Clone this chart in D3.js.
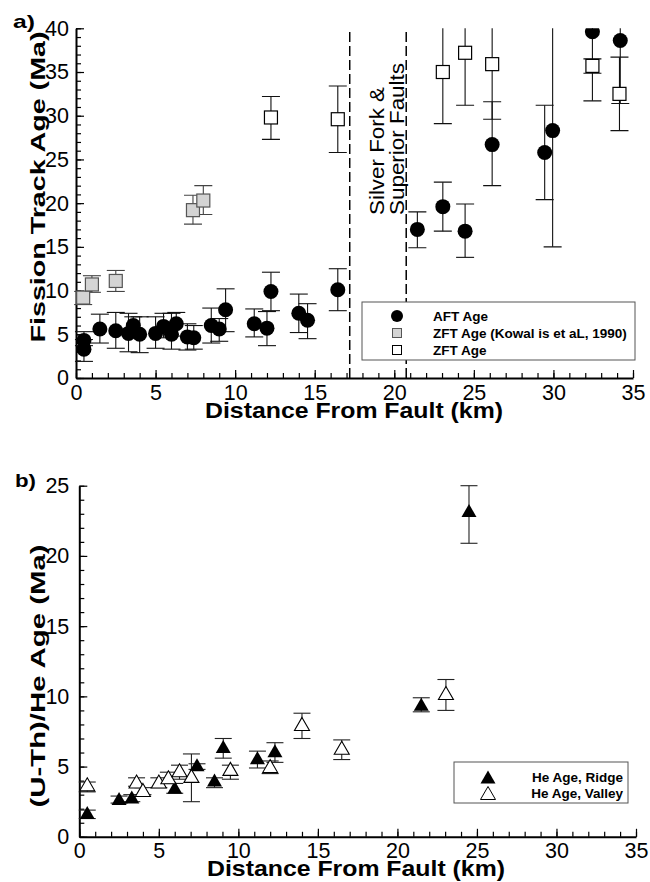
<!DOCTYPE html>
<html>
<head>
<meta charset="utf-8">
<script src="https://cdn.jsdelivr.net/npm/d3@7"></script>
<style>
  body { margin: 0; background: #fff; }
  svg { display: block; font-family: "Liberation Sans", Arial, Helvetica, sans-serif; }
</style>
</head>
<body>
<div id="chart"></div>
<script>
// rows are [distance km, age Ma, error low, error high]
const aftAge = [
  [0.5, 4.3, 3.7, 5.3], [0.5, 3.3, 1.9, 4.4], [1.5, 5.6, 4.0, 7.3], [2.5, 5.4, 3.4, 7.5],
  [3.3, 5.1, 3.0, 7.4], [3.6, 6.0, 4.9, 7.0], [4.0, 5.0, 2.9, 7.0], [5.0, 5.1, 3.4, 7.0],
  [5.5, 5.9, 4.6, 7.4], [6.0, 5.0, 3.3, 7.4], [6.3, 6.2, 4.8, 7.5], [7.0, 4.7, 3.2, 6.2],
  [7.4, 4.6, 3.3, 6.0], [8.5, 6.0, 4.0, 8.0], [9.0, 5.6, 4.2, 6.8], [9.4, 7.8, 5.3, 10.2],
  [11.2, 6.2, 4.7, 7.9], [12.0, 5.7, 3.7, 7.6], [12.25, 9.9, 7.7, 12.1], [14.0, 7.4, 5.2, 9.6],
  [14.55, 6.6, 4.5, 8.5], [16.45, 10.1, 7.7, 12.5], [21.45, 17.0, 14.9, 19.0],
  [23.05, 19.6, 16.8, 22.4], [24.45, 16.8, 13.8, 19.9], [26.15, 26.7, 22.0, 31.6],
  [29.45, 25.8, 20.4, 31.2], [29.95, 28.3, 15.0, 44.0], [32.45, 39.6, 31.7, 46.0],
  [34.2, 38.6, 31.4, 46.0]
];
const zftKowalis = [
  [0.45, 9.2, 8.4, 9.9], [1.0, 10.7, 9.8, 11.7], [2.5, 11.1, 9.9, 12.3],
  [7.35, 19.2, 17.6, 20.9], [8.0, 20.3, 18.7, 22.0]
];
const zftAge = [
  [12.25, 29.8, 27.3, 32.2], [16.45, 29.6, 25.8, 33.4], [23.05, 35.0, 29.1, 44.0],
  [24.45, 37.2, 31.2, 45.0], [26.15, 35.9, 29.6, 45.0], [32.45, 35.7, 34.85, 36.5],
  [34.15, 32.5, 28.3, 36.7]
];
const heRidge = [
  [0.5, 1.7, 1.3, 1.9], [2.5, 2.7, 2.4, 2.9], [3.3, 2.8, 2.5, 3.0], [6.0, 3.5, 3.1, 3.8],
  [7.4, 5.1, 4.8, 5.2], [8.5, 4.0, 3.5, 4.2], [9.05, 6.4, 5.6, 7.0], [11.2, 5.6, 4.9, 6.1],
  [12.3, 6.1, 5.3, 6.7], [21.5, 9.4, 8.9, 9.9], [24.5, 23.2, 20.9, 25.0]
];
const heValley = [
  [0.5, 3.7, 3.2, 3.9], [3.6, 3.9, 3.6, 4.2], [4.0, 3.3, 3.0, 3.5], [5.0, 3.9, 3.5, 4.2],
  [5.6, 4.2, 3.8, 4.6], [6.3, 4.7, 4.1, 5.1], [7.05, 4.3, 2.5, 5.9], [9.5, 4.8, 4.1, 5.1],
  [12.0, 5.0, 4.5, 5.4], [14.0, 8.0, 7.0, 8.8], [16.5, 6.3, 5.5, 6.9], [23.05, 10.2, 9.0, 11.2]
];
const faultLines = [17.2, 20.75];
const faultLabel = ['Silver Fork &', 'Superior Faults'];
const legendA = ['AFT Age', 'ZFT Age (Kowal is et aL, 1990)', 'ZFT Age'];
const legendB = ['He Age, Ridge', 'He Age, Valley'];
const xTicks = d3.range(0, 36, 5);
const xMinor = d3.range(0, 36, 1);
const yTicksA = d3.range(0, 41, 5);
const yMinorA = d3.range(0, 41, 1);
const yTicksB = d3.range(0, 26, 5);
const yMinorB = d3.range(0, 26, 1);

const width = 650;
const height = 882;

const svg = d3.select('#chart').append('svg')
  .attr('width', width)
  .attr('height', height);

const xA = d3.scaleLinear().domain([0, 35]).range([76, 633]);
const yA = d3.scaleLinear().domain([0, 40]).range([378, 28.3]);
const xB = d3.scaleLinear().domain([0, 35]).range([79.3, 636]);
const yB = d3.scaleLinear().domain([0, 25]).range([836.8, 485.7]);

const triangle = 'M0,-7L7.5,6L-7.5,6Z';

function styleAxis(g) {
  g.attr('font-family', null).attr('font-size', 21.5);
  g.selectAll('text').attr('fill', '#000');
  g.select('.domain').attr('stroke-width', 2);
  g.selectAll('.tick line').attr('stroke-width', 1.2);
}

function drawAxes(x, y, yTicks, yMinor, xPad, yPad) {
  svg.append('g')
    .attr('transform', `translate(0,${y(0)})`)
    .call(d3.axisBottom(x).tickValues(xMinor).tickSize(-5))
    .call(g => g.select('.domain').remove())
    .call(g => g.selectAll('text').remove())
    .call(styleAxis);
  svg.append('g')
    .attr('transform', `translate(0,${y(0)})`)
    .call(d3.axisBottom(x).tickValues(xTicks).tickSize(-8).tickSizeOuter(0).tickPadding(xPad))
    .call(styleAxis);
  svg.append('g')
    .attr('transform', `translate(${x(0)},0)`)
    .call(d3.axisLeft(y).tickValues(yMinor).tickSize(-5))
    .call(g => g.select('.domain').remove())
    .call(g => g.selectAll('text').remove())
    .call(styleAxis);
  svg.append('g')
    .attr('transform', `translate(${x(0)},0)`)
    .call(d3.axisLeft(y).tickValues(yTicks).tickSize(-8).tickSizeOuter(0).tickPadding(yPad))
    .call(styleAxis);
}

function errorBars(g, rows, x, y, color, cap) {
  const bars = g.append('g').attr('stroke', color).attr('stroke-width', 1.1);
  bars.selectAll('line.v').data(rows).join('line')
    .attr('x1', d => x(d[0])).attr('x2', d => x(d[0]))
    .attr('y1', d => y(d[2])).attr('y2', d => y(d[3]));
  bars.selectAll('line.lo').data(rows).join('line')
    .attr('x1', d => x(d[0]) - cap).attr('x2', d => x(d[0]) + cap)
    .attr('y1', d => y(d[2])).attr('y2', d => y(d[2]));
  bars.selectAll('line.hi').data(rows).join('line')
    .attr('x1', d => x(d[0]) - cap).attr('x2', d => x(d[0]) + cap)
    .attr('y1', d => y(d[3])).attr('y2', d => y(d[3]));
}

// ---------- panel a ----------
svg.append('clipPath').attr('id', 'clipA')
  .append('rect').attr('x', 0).attr('y', yA(40)).attr('width', width).attr('height', yA(0) - yA(40) + 20);

drawAxes(xA, yA, yTicksA, yMinorA, 7, 7);

const plotA = svg.append('g').attr('clip-path', 'url(#clipA)');

plotA.selectAll('line.fault').data(faultLines).join('line')
  .attr('x1', d => xA(d)).attr('x2', d => xA(d))
  .attr('y1', yA(0)).attr('y2', yA(39.7))
  .attr('stroke', '#000').attr('stroke-width', 1.5).attr('stroke-dasharray', '10,4');

errorBars(plotA, zftKowalis, xA, yA, '#444', 9);
errorBars(plotA, zftAge, xA, yA, '#111', 9);
errorBars(plotA, aftAge, xA, yA, '#111', 9);

plotA.selectAll('rect.kow').data(zftKowalis).join('rect')
  .attr('x', d => xA(d[0]) - 6.5).attr('y', d => yA(d[1]) - 6.5)
  .attr('width', 13).attr('height', 13)
  .attr('fill', '#d4d4d4').attr('stroke', '#555').attr('stroke-width', 1.2);

plotA.selectAll('rect.zft').data(zftAge).join('rect')
  .attr('x', d => xA(d[0]) - 6.5).attr('y', d => yA(d[1]) - 6.5)
  .attr('width', 13).attr('height', 13)
  .attr('fill', '#fff').attr('stroke', '#000').attr('stroke-width', 1.2);

plotA.selectAll('circle.aft').data(aftAge).join('circle')
  .attr('cx', d => xA(d[0])).attr('cy', d => yA(d[1]))
  .attr('r', 7.5).attr('fill', '#000');

// fault label
faultLabel.forEach((t, i) => {
  svg.append('text')
    .attr('transform', `translate(${384 + i * 19.5},215) rotate(-90)`)
    .attr('font-size', 20)
    .attr('textLength', i === 0 ? 128 : 152)
    .attr('lengthAdjust', 'spacingAndGlyphs')
    .text(t);
});

// legend a
const legA = svg.append('g');
legA.append('rect').attr('x', 362).attr('y', 302).attr('width', 273).attr('height', 58)
  .attr('fill', '#fff').attr('stroke', '#555').attr('stroke-width', 1);
legA.append('circle').attr('cx', 397).attr('cy', 316).attr('r', 6).attr('fill', '#000');
legA.append('rect').attr('x', 392.5).attr('y', 328.5).attr('width', 9).attr('height', 9)
  .attr('fill', '#d4d4d4').attr('stroke', '#555').attr('stroke-width', 1);
legA.append('rect').attr('x', 392.5).attr('y', 345.5).attr('width', 9).attr('height', 9)
  .attr('fill', '#fff').attr('stroke', '#000').attr('stroke-width', 1);
legA.selectAll('text').data(legendA).join('text')
  .attr('x', 433).attr('y', (d, i) => 316 + i * 17).attr('dy', '0.36em')
  .attr('font-size', 13.5).attr('font-weight', 'bold')
  .text(d => d);

// labels a
svg.append('text').attr('x', 13).attr('y', 28).attr('font-size', 19).attr('font-weight', 'bold')
  .attr('textLength', 22).attr('lengthAdjust', 'spacingAndGlyphs').text('a)');
svg.append('text')
  .attr('transform', `translate(45,187) rotate(-90)`)
  .attr('text-anchor', 'middle').attr('font-size', 20).attr('font-weight', 'bold')
  .attr('textLength', 311).attr('lengthAdjust', 'spacingAndGlyphs')
  .text('Fission Track Age (Ma)');
svg.append('text')
  .attr('x', 354).attr('y', 418)
  .attr('text-anchor', 'middle').attr('font-size', 22).attr('font-weight', 'bold')
  .attr('textLength', 298).attr('lengthAdjust', 'spacingAndGlyphs')
  .text('Distance From Fault (km)');

// ---------- panel b ----------
drawAxes(xB, yB, yTicksB, yMinorB, 6, 10);

const plotB = svg.append('g');
errorBars(plotB, heRidge, xB, yB, '#222', 8.5);
errorBars(plotB, heValley, xB, yB, '#222', 8.5);

plotB.selectAll('path.ridge').data(heRidge).join('path')
  .attr('transform', d => `translate(${xB(d[0])},${yB(d[1])})`)
  .attr('d', triangle).attr('fill', '#000');
plotB.selectAll('path.valley').data(heValley).join('path')
  .attr('transform', d => `translate(${xB(d[0])},${yB(d[1])})`)
  .attr('d', triangle).attr('fill', '#fff').attr('stroke', '#000').attr('stroke-width', 1.1);

// legend b
const legB = svg.append('g');
legB.append('rect').attr('x', 454).attr('y', 762).attr('width', 174).attr('height', 41)
  .attr('fill', '#fff').attr('stroke', '#555').attr('stroke-width', 1);
legB.append('path').attr('transform', 'translate(488,777.5)').attr('d', triangle).attr('fill', '#000');
legB.append('path').attr('transform', 'translate(488,793.5)').attr('d', triangle)
  .attr('fill', '#fff').attr('stroke', '#000').attr('stroke-width', 1);
legB.selectAll('text').data(legendB).join('text')
  .attr('x', 623).attr('y', (d, i) => 777 + i * 16).attr('dy', '0.36em')
  .attr('text-anchor', 'end').attr('font-size', 13.5).attr('font-weight', 'bold')
  .text(d => d);

// labels b
svg.append('text').attr('x', 15).attr('y', 487).attr('font-size', 19).attr('font-weight', 'bold')
  .attr('textLength', 21).attr('lengthAdjust', 'spacingAndGlyphs').text('b)');
svg.append('text')
  .attr('transform', `translate(45,676) rotate(-90)`)
  .attr('text-anchor', 'middle').attr('font-size', 20).attr('font-weight', 'bold')
  .attr('textLength', 263).attr('lengthAdjust', 'spacingAndGlyphs')
  .text('(U-Th)/He Age (Ma)');
svg.append('text')
  .attr('x', 356).attr('y', 876)
  .attr('text-anchor', 'middle').attr('font-size', 22).attr('font-weight', 'bold')
  .attr('textLength', 298).attr('lengthAdjust', 'spacingAndGlyphs')
  .text('Distance From Fault (km)');
</script>
</body>
</html>
